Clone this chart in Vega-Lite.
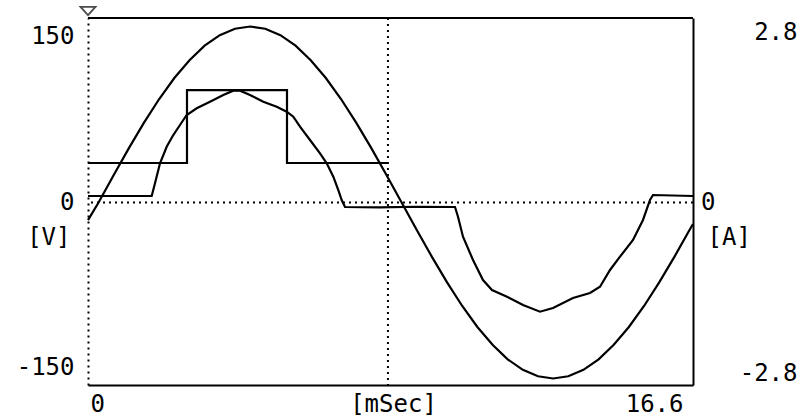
{
  "$schema": "https://vega.github.io/schema/vega-lite/v6.json",
  "width": 605,
  "height": 367,
  "autosize": {"type": "none"},
  "padding": {"left": 88, "top": 18, "right": 110, "bottom": 33},
  "background": "white",
  "config": {
    "view": {"stroke": null},
    "font": "DejaVu Sans Mono",
    "axis": {
      "labelFont": "DejaVu Sans Mono",
      "titleFont": "DejaVu Sans Mono",
      "labelFontSize": 24,
      "titleFontSize": 24,
      "labelColor": "black",
      "titleColor": "black",
      "titleFontWeight": "normal",
      "grid": false,
      "ticks": false,
      "domainColor": "black",
      "domainWidth": 2
    }
  },
  "datasets": {
    "volt": [
      {"t": 0, "v": -16},
      {"t": 0.29, "v": 0},
      {"t": 0.706, "v": 24.9},
      {"t": 1.122, "v": 49.3},
      {"t": 1.537, "v": 72.4},
      {"t": 1.953, "v": 93.8},
      {"t": 2.369, "v": 112.8},
      {"t": 2.785, "v": 129.0},
      {"t": 3.2, "v": 142.1},
      {"t": 3.616, "v": 151.7},
      {"t": 4.032, "v": 157.5},
      {"t": 4.448, "v": 159.5},
      {"t": 4.863, "v": 157.5},
      {"t": 5.279, "v": 151.7},
      {"t": 5.695, "v": 142.1},
      {"t": 6.111, "v": 129.0},
      {"t": 6.526, "v": 112.8},
      {"t": 6.942, "v": 93.8},
      {"t": 7.358, "v": 72.4},
      {"t": 7.774, "v": 49.3},
      {"t": 8.189, "v": 24.9},
      {"t": 8.605, "v": 0},
      {"t": 9.021, "v": -24.9},
      {"t": 9.437, "v": -49.3},
      {"t": 9.852, "v": -72.4},
      {"t": 10.268, "v": -93.8},
      {"t": 10.684, "v": -112.8},
      {"t": 11.1, "v": -129.0},
      {"t": 11.515, "v": -142.1},
      {"t": 11.931, "v": -151.7},
      {"t": 12.347, "v": -157.5},
      {"t": 12.763, "v": -159.5},
      {"t": 13.178, "v": -157.5},
      {"t": 13.594, "v": -151.7},
      {"t": 14.01, "v": -142.1},
      {"t": 14.426, "v": -129.0},
      {"t": 14.841, "v": -112.8},
      {"t": 15.257, "v": -93.8},
      {"t": 15.673, "v": -72.4},
      {"t": 16.089, "v": -49.3},
      {"t": 16.504, "v": -24.9},
      {"t": 16.6, "v": -19.5}
    ],
    "cur": [
      {"t": 0, "i": 0.107},
      {"t": 1.748, "i": 0.107},
      {"t": 1.838, "i": 0.315},
      {"t": 1.976, "i": 0.644},
      {"t": 2.159, "i": 0.916},
      {"t": 2.34, "i": 1.108},
      {"t": 2.524, "i": 1.273},
      {"t": 2.708, "i": 1.437},
      {"t": 2.983, "i": 1.547},
      {"t": 3.347, "i": 1.655},
      {"t": 3.712, "i": 1.765},
      {"t": 3.987, "i": 1.836},
      {"t": 4.171, "i": 1.836},
      {"t": 4.445, "i": 1.765},
      {"t": 4.81, "i": 1.655},
      {"t": 5.178, "i": 1.573},
      {"t": 5.452, "i": 1.491},
      {"t": 5.633, "i": 1.409},
      {"t": 5.817, "i": 1.245},
      {"t": 6.091, "i": 1.026},
      {"t": 6.366, "i": 0.808},
      {"t": 6.55, "i": 0.644},
      {"t": 6.731, "i": 0.424},
      {"t": 6.868, "i": 0.205},
      {"t": 6.961, "i": 0.041},
      {"t": 7.052, "i": -0.074},
      {"t": 8.0, "i": -0.08},
      {"t": 9.0, "i": -0.07},
      {"t": 10.07, "i": -0.074},
      {"t": 10.152, "i": -0.233},
      {"t": 10.289, "i": -0.562},
      {"t": 10.564, "i": -0.944},
      {"t": 10.838, "i": -1.273},
      {"t": 11.085, "i": -1.437},
      {"t": 11.497, "i": -1.547},
      {"t": 11.936, "i": -1.683},
      {"t": 12.402, "i": -1.793},
      {"t": 12.759, "i": -1.732},
      {"t": 13.307, "i": -1.568},
      {"t": 13.774, "i": -1.486},
      {"t": 14.048, "i": -1.383},
      {"t": 14.323, "i": -1.108},
      {"t": 14.597, "i": -0.89},
      {"t": 14.954, "i": -0.616},
      {"t": 15.228, "i": -0.287},
      {"t": 15.42, "i": 0.041},
      {"t": 15.503, "i": 0.123},
      {"t": 16.6, "i": 0.107}
    ],
    "step": [
      {"t": 0, "i": 0.649},
      {"t": 2.716, "i": 1.847},
      {"t": 5.46, "i": 0.649},
      {"t": 8.23, "i": 0.649}
    ]
  },
  "layer": [
    {
      "layer": [
        {
          "data": {"values": [{}]},
          "mark": {"type": "rule", "color": "black", "strokeWidth": 2, "strokeDash": [2, 4]},
          "encoding": {
            "y": {"datum": 0, "type": "quantitative"}
          }
        },
        {
          "data": {"values": [{}]},
          "mark": {"type": "rule", "color": "black", "strokeWidth": 2, "strokeDash": [2, 4]},
          "encoding": {
            "x": {"datum": 8.23, "type": "quantitative"}
          }
        },
        {
          "data": {"values": [{}]},
          "mark": {"type": "rule", "color": "black", "strokeWidth": 2},
          "encoding": {
            "y": {"datum": 167.22, "type": "quantitative"}
          }
        },
        {
          "data": {"values": [{}]},
          "mark": {"type": "point", "shape": "M-1,-0.55L1,-0.55L0,0.55Z", "filled": false, "color": "black", "strokeWidth": 1.8, "size": 225, "yOffset": -7},
          "encoding": {
            "x": {"datum": 0, "type": "quantitative"},
            "y": {"datum": 167.22, "type": "quantitative"}
          }
        },
        {
          "data": {"name": "volt"},
          "mark": {"type": "line", "color": "black", "strokeWidth": 2.2},
          "encoding": {
            "x": {
              "field": "t",
              "type": "quantitative",
              "scale": {"domain": [0, 16.6], "nice": false, "zero": false},
              "axis": {
                "orient": "bottom",
                "values": [0, 16.6],
                "title": "[mSec]",
                "titleX": 305,
                "titleY": 19,
                "titleAlign": "center",
                "titleBaseline": "middle",
                "labelBaseline": "middle",
                "labelPadding": 19,
                "labelExpr": "'' + datum.value",
                "labelFlush": true,
                "labelOffset": -4,
                "labelFlushOffset": -6
              }
            },
            "y": {
              "field": "v",
              "type": "quantitative",
              "scale": {"domain": [-165.41, 167.22], "nice": false, "zero": false},
              "axis": {
                "orient": "left",
                "values": [-150, 0, 150],
                "labelExpr": "'' + datum.value",
                "labelBaseline": "middle",
                "labelPadding": 14,
                "domainDash": [2, 4],
                "title": "[V]",
                "titleAngle": 0,
                "titleX": -18,
                "titleY": 219,
                "titleAlign": "right",
                "titleBaseline": "middle"
              }
            }
          }
        }
      ]
    },
    {
      "layer": [
        {
          "data": {"name": "step"},
          "mark": {"type": "line", "color": "black", "strokeWidth": 2.2, "interpolate": "step-after"},
          "encoding": {
            "x": {"field": "t", "type": "quantitative"},
            "y": {
              "field": "i",
              "type": "quantitative",
              "axis": {
                "orient": "right",
                "values": [0],
                "labelExpr": "'' + datum.value",
                "labelBaseline": "middle",
                "labelAlign": "right",
                "labelPadding": 22,
                "title": "[A]",
                "titleAngle": 0,
                "titleX": 14,
                "titleY": 219,
                "titleAlign": "left",
                "titleBaseline": "middle"
              }
            }
          }
        },
        {
          "data": {"name": "cur"},
          "mark": {"type": "line", "color": "black", "strokeWidth": 2.2},
          "encoding": {
            "x": {"field": "t", "type": "quantitative"},
            "y": {
              "field": "i",
              "type": "quantitative",
              "scale": {"domain": [-2.997, 3.03], "nice": false, "zero": false},
              "axis": {
                "orient": "right",
                "values": [-2.8, 2.8],
                "labelExpr": "'' + datum.value",
                "labelBaseline": "middle",
                "labelAlign": "right",
                "labelPadding": 104,
                "title": null,
                "domain": false
              }
            }
          }
        }
      ],
      "resolve": {"axis": {"y": "independent"}}
    }
  ],
  "resolve": {"scale": {"y": "independent"}}
}
